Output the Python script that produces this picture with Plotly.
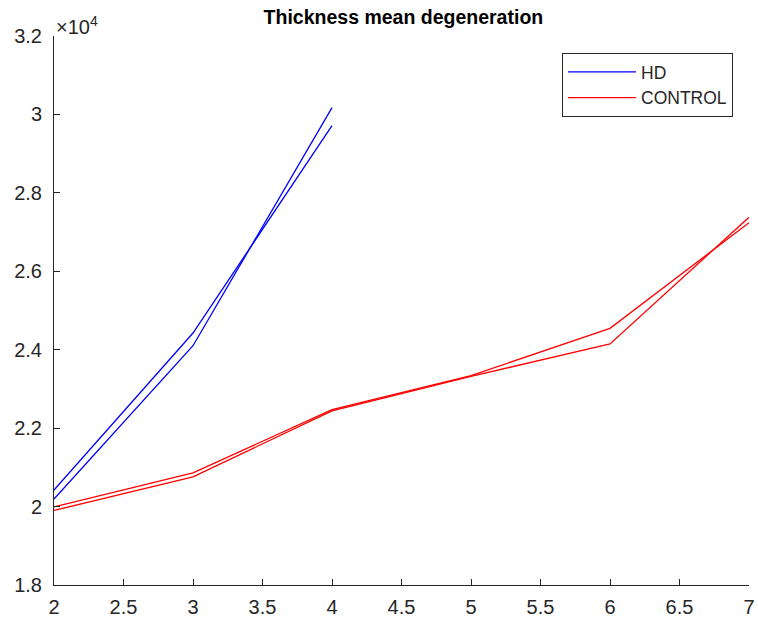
import plotly.graph_objects as go

x_hd = [2, 3, 4]
hd_1 = [20423, 24426, 29712]
hd_2 = [20193, 24102, 30172]

x_ctrl = [2, 3, 4, 5, 6, 7]
ctrl_1 = [19990, 20860, 22470, 23340, 24546, 27239]
ctrl_2 = [19900, 20760, 22440, 23320, 24146, 27377]

x_ticks = [2, 2.5, 3, 3.5, 4, 4.5, 5, 5.5, 6, 6.5, 7]
y_ticks = [18000, 20000, 22000, 24000, 26000, 28000, 30000, 32000]
y_tick_labels = ["1.8", "2", "2.2", "2.4", "2.6", "2.8", "3", "3.2"]

AX = "#262626"
FONT = "Liberation Sans, Arial, sans-serif"

fig = go.Figure()
fig.add_trace(go.Scatter(x=x_hd, y=hd_1, mode="lines", name="HD",
                         line=dict(color="rgb(0,0,255)", width=1.3)))
fig.add_trace(go.Scatter(x=x_hd, y=hd_2, mode="lines", name="HD", showlegend=False,
                         line=dict(color="rgb(0,0,255)", width=1.3)))
fig.add_trace(go.Scatter(x=x_ctrl, y=ctrl_1, mode="lines", name="CONTROL",
                         line=dict(color="rgb(255,0,0)", width=1.3)))
fig.add_trace(go.Scatter(x=x_ctrl, y=ctrl_2, mode="lines", name="CONTROL", showlegend=False,
                         line=dict(color="rgb(255,0,0)", width=1.3)))

fig.update_layout(
    template="none",
    width=758, height=619,
    margin=dict(l=54, r=9, t=36, b=34, autoexpand=False),
    paper_bgcolor="white", plot_bgcolor="white",
    font=dict(family=FONT, size=20, color=AX),
    title=dict(text="<b>Thickness mean degeneration</b>", x=0.5322, xanchor="center",
               y=1 - 17/619, yanchor="middle", font=dict(size=19.5, color="black")),
    showlegend=True,
    legend=dict(x=0.977, xanchor="right", y=0.969, yanchor="top",
                bordercolor=AX, borderwidth=1, bgcolor="white", itemwidth=68,
                font=dict(size=17.5, color=AX), tracegroupgap=0),
    xaxis=dict(range=[2, 7], tickvals=x_ticks, ticktext=[f"{v:g}" for v in x_ticks],
               ticks="inside", ticklen=6, tickcolor=AX, showgrid=False, zeroline=False,
               showline=True, linecolor=AX, linewidth=1, mirror=False, automargin=False,
               ticklabelstandoff=4, tickfont=dict(size=20, color=AX)),
    yaxis=dict(range=[18000, 32000], tickvals=y_ticks, ticktext=y_tick_labels,
               ticks="inside", ticklen=6, tickcolor=AX, showgrid=False, zeroline=False,
               showline=True, linecolor=AX, linewidth=1, mirror=False, automargin=False,
               ticklabelstandoff=7, tickfont=dict(size=20, color=AX)),
    annotations=[dict(text="×10<sup>4</sup>", xref="paper", yref="paper", x=0, y=1,
                      xanchor="left", yanchor="bottom", showarrow=False,
                      font=dict(size=20, color=AX), xshift=0, yshift=-4)],
)

fig.write_html("out.html")
